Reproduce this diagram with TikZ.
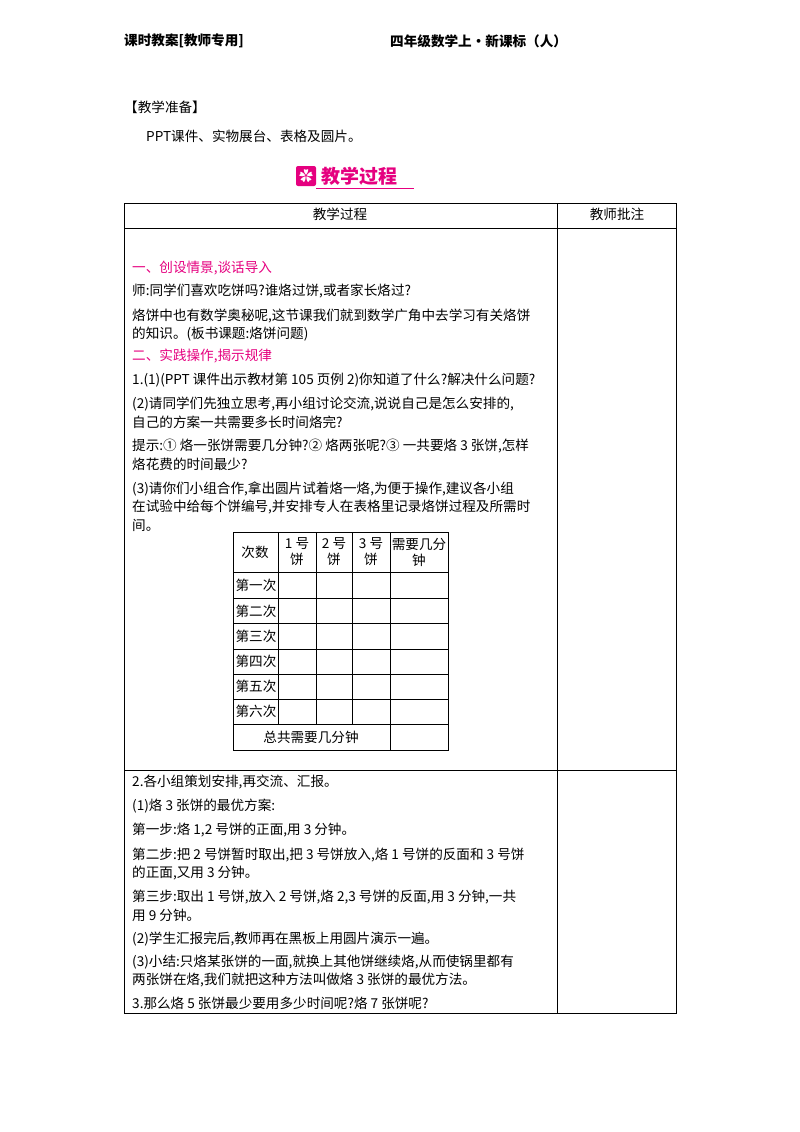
\documentclass[tikz,border=0pt]{standalone}
\usepackage{fontspec}
\setmainfont{Noto Sans CJK SC}
\definecolor{mag}{HTML}{E5007F}
\begin{document}
\begin{tikzpicture}[x=1pt,y=-1pt,
  t/.style={anchor=west,inner sep=0pt,font=\fontsize{13.6}{15}\selectfont},
  m/.style={t,text=mag},
  c/.style={anchor=center,inner sep=0pt,font=\fontsize{13.6}{15}\selectfont},
  ln/.style={line width=0.7pt}]
\useasboundingbox (0,0) rectangle (800,1132);
\node[t,font=\fontsize{13.6}{15}\selectfont\bfseries] (h1) at (124,41) {课时教案[教师专用]};
\node[t,font=\fontsize{13.6}{15}\selectfont\bfseries] (h2) at (390,41) {四年级数学上·新课标（人）};
\node[t] (p1) at (124,107) {【教学准备】};
\node[t] (p2) at (146,136) {PPT课件、实物展台、表格及圆片。};
% banner
\node[fill=mag,minimum size=20pt,inner sep=0pt,rounded corners=2pt] (ic) at (306,176) {};
\node[text=white,font=\fontsize{14}{14}\selectfont\bfseries] at (ic) {✿};
\node[anchor=west,inner sep=0pt,text=mag,font=\fontsize{19}{19}\selectfont\bfseries] (bt) at (321,176) {教学过程};
\coordinate (u1) at (316,188); \coordinate (u2) at (414,188);
\draw[mag,line width=0.8pt] (u1) -- (u2);
% main table
\draw[ln] (124,203) rectangle (676,1013);
\draw[ln] (557,203) -- (557,1013);
\draw[ln] (124,228) -- (676,228);
\draw[ln] (124,770) -- (676,770);
\node[c] at (340,214) {教学过程};
\node[c] at (617,214) {教师批注};
\node[m] at (132,268) {一、创设情景,谈话导入};
\node[t] at (132,291) {师:同学们喜欢吃饼吗?谁烙过饼,或者家长烙过?};
\node[t] at (132,316) {烙饼中也有数学奥秘呢,这节课我们就到数学广角中去学习有关烙饼};
\node[t] at (132,334) {的知识。(板书课题:烙饼问题)};
\node[m] at (132,356) {二、实践操作,揭示规律};
\node[t] at (132,380) {1.(1)(PPT 课件出示教材第 105 页例 2)你知道了什么?解决什么问题?};
\node[t] at (132,404) {(2)请同学们先独立思考,再小组讨论交流,说说自己是怎么安排的,};
\node[t] at (132,422) {自己的方案一共需要多长时间烙完?};
\node[t] at (132,446) {提示:① 烙一张饼需要几分钟?② 烙两张呢?③ 一共要烙 3 张饼,怎样};
\node[t] at (132,464) {烙花费的时间最少?};
\node[t] at (132,489) {(3)请你们小组合作,拿出圆片试着烙一烙,为便于操作,建议各小组};
\node[t] at (132,507) {在试验中给每个饼编号,并安排专人在表格里记录烙饼过程及所需时};
\node[t] at (132,525) {间。};
% inner table
\draw[ln] (233,532) rectangle (448,750);
\foreach \y in {572,598,623,649,674,699,724} \draw[ln] (233,\y) -- (448,\y);
\draw[ln] (390,532) -- (390,750);
\foreach \x in {278,316,352} \draw[ln] (\x,532) -- (\x,724);
\node[c] at (255,552) {次数};
\node[c,align=center,font=\fontsize{13.6}{16}\selectfont] at (297,552) {1 号\\饼};
\node[c,align=center,font=\fontsize{13.6}{16}\selectfont] at (334,552) {2 号\\饼};
\node[c,align=center,font=\fontsize{13.6}{16}\selectfont] at (371,552) {3 号\\饼};
\node[c,align=center,font=\fontsize{13.6}{16}\selectfont] at (419,552) {需要几分\\钟};
\node[c] at (256,585) {第一次};
\node[c] at (256,611) {第二次};
\node[c] at (256,636) {第三次};
\node[c] at (256,661) {第四次};
\node[c] at (256,686) {第五次};
\node[c] at (256,711) {第六次};
\node[c] at (311,737) {总共需要几分钟};
% second part
\node[t] at (132,782) {2.各小组策划安排,再交流、汇报。};
\node[t] at (132,806) {(1)烙 3 张饼的最优方案:};
\node[t] at (132,830) {第一步:烙 1,2 号饼的正面,用 3 分钟。};
\node[t] at (132,855) {第二步:把 2 号饼暂时取出,把 3 号饼放入,烙 1 号饼的反面和 3 号饼};
\node[t] at (132,873) {的正面,又用 3 分钟。};
\node[t] at (132,897) {第三步:取出 1 号饼,放入 2 号饼,烙 2,3 号饼的反面,用 3 分钟,一共};
\node[t] at (132,915) {用 9 分钟。};
\node[t] at (132,939) {(2)学生汇报完后,教师再在黑板上用圆片演示一遍。};
\node[t] at (132,962) {(3)小结:只烙某张饼的一面,就换上其他饼继续烙,从而使锅里都有};
\node[t] at (132,980) {两张饼在烙,我们就把这种方法叫做烙 3 张饼的最优方法。};
\node[t] at (132,1003) {3.那么烙 5 张饼最少要用多少时间呢?烙 7 张饼呢?};
\end{tikzpicture}
\end{document}
